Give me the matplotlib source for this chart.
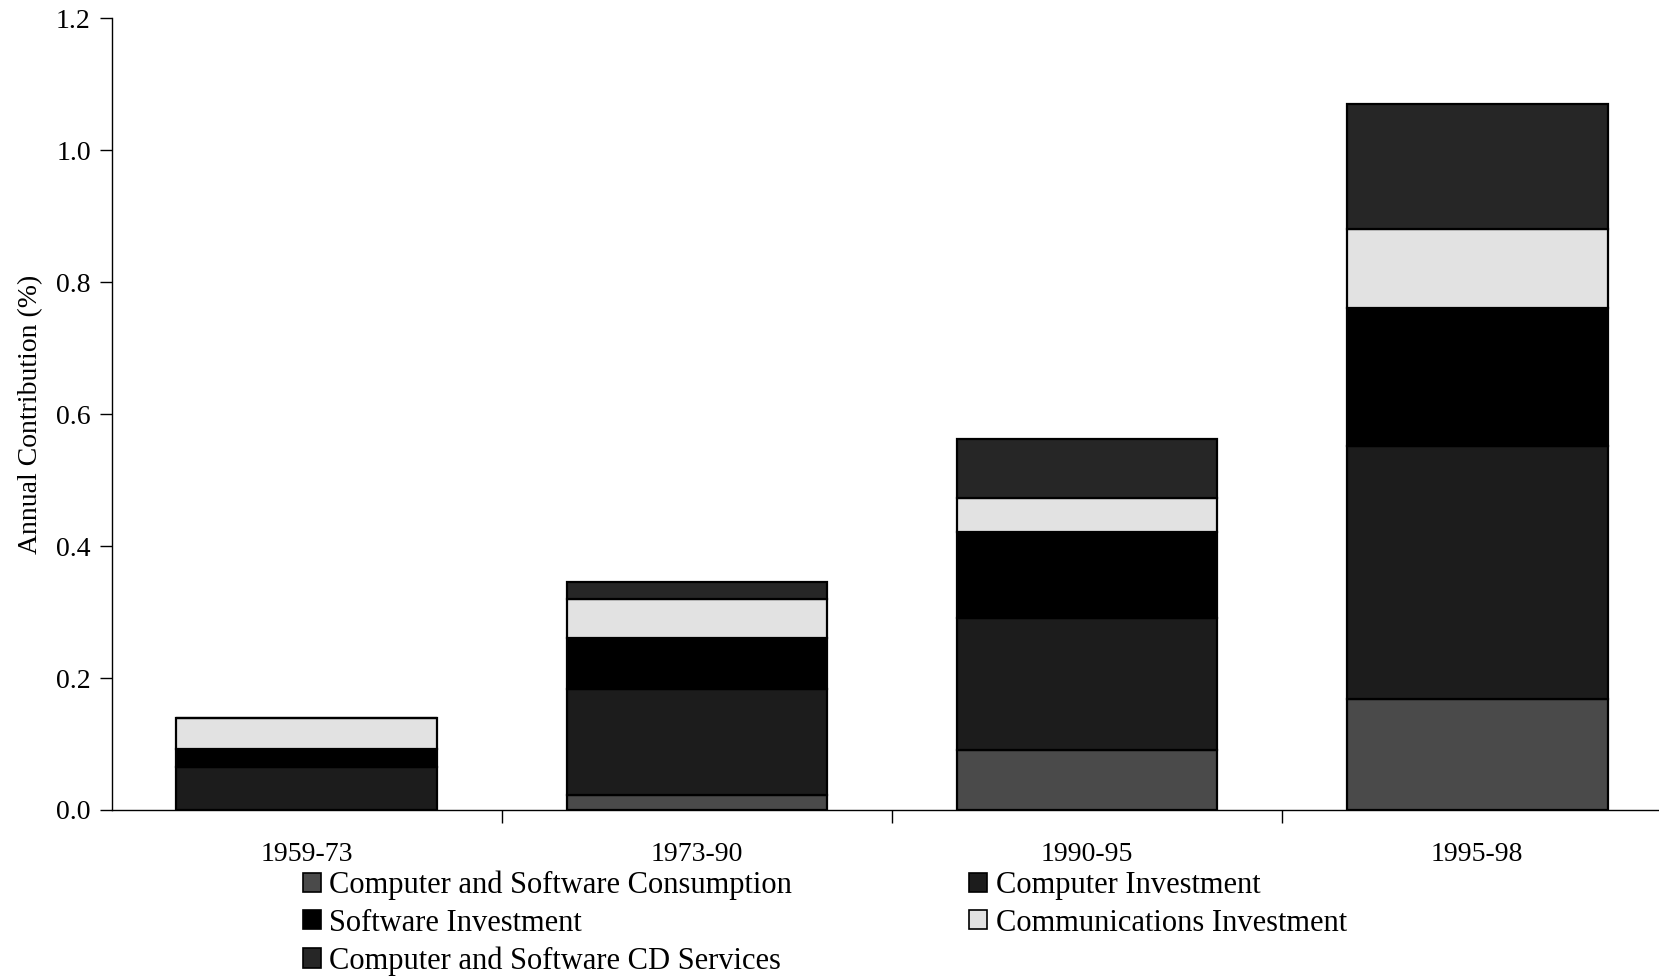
import matplotlib
matplotlib.use("Agg")
import matplotlib.pyplot as plt
from matplotlib.patches import Patch
import numpy as np

periods = ["1959-73", "1973-90", "1990-95", "1995-98"]
consumption = [0.0, 0.022, 0.091, 0.168]
computer_inv = [0.065, 0.161, 0.200, 0.383]
software_inv = [0.028, 0.078, 0.130, 0.210]
comm_inv = [0.047, 0.059, 0.052, 0.120]
cd_services = [0.0, 0.025, 0.090, 0.189]

series_names = ["Computer and Software Consumption", "Computer Investment",
                "Software Investment", "Communications Investment",
                "Computer and Software CD Services"]
series_vals = [consumption, computer_inv, software_inv, comm_inv, cd_services]
colors = ["#4a4a4a", "#1c1c1c", "#000000", "#e2e2e2", "#262626"]

plt.rcParams['font.family'] = ['Liberation Serif', 'DejaVu Serif']
FS = 20
LFS = 22

fig = plt.figure(figsize=(16.59, 9.76), dpi=100)
ax = fig.add_axes([0.0673, 0.1701, 1.008 - 0.0673, 0.9812 - 0.1701])

x = np.arange(len(periods))
bottom = np.zeros(len(periods))
handles = {}
for name, vals, c in zip(series_names, series_vals, colors):
    v = np.array(vals)
    ax.bar(x, v, width=0.668, bottom=bottom, color=c, edgecolor="black",
           linewidth=1.6)
    handles[name] = Patch(facecolor=c, edgecolor="black", linewidth=1.2)
    bottom += v

ax.set_xlim(-0.5, 3.5)
ax.set_ylim(0, 1.2)
ax.set_yticks(np.arange(0, 1.21, 0.2))
ax.set_yticklabels([f"{t:.1f}" for t in np.arange(0, 1.21, 0.2)], fontsize=FS)
ax.set_xticks(x)
ax.set_xticklabels(periods, fontsize=FS)
ax.set_xticks([0.5, 1.5, 2.5], minor=True)
ax.tick_params(axis='x', which='major', length=0, pad=23)
ax.tick_params(axis='x', which='minor', length=9, width=1.0, direction='out')
ax.tick_params(axis='y', length=9, width=1.0, direction='out', pad=6)
for s in ["top", "right"]:
    ax.spines[s].set_visible(False)
for s in ["left", "bottom"]:
    ax.spines[s].set_linewidth(1.0)
ax.set_ylabel("Annual Contribution (%)", fontsize=FS, labelpad=9)

order = [series_names[0], series_names[2], series_names[4], series_names[1], series_names[3]]
leg = fig.legend([handles[n] for n in order], order, ncol=2,
                 loc="upper left", bbox_to_anchor=(0.1825, 0.108),
                 frameon=False, fontsize=LFS, handlelength=0.59, handleheight=0.59,
                 handletextpad=0.28, labelspacing=0.28, columnspacing=5.8,
                 borderpad=0, borderaxespad=0)

fig.savefig("out.png", dpi=100)
